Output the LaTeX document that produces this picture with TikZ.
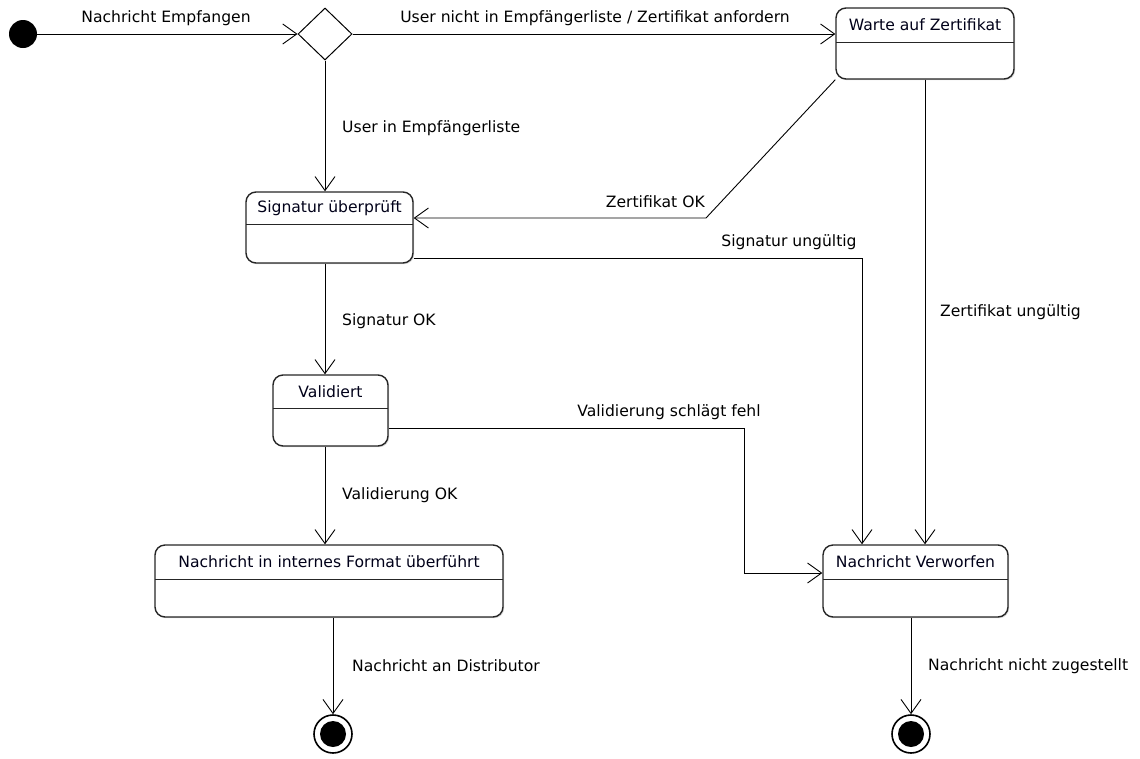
\documentclass[tikz,border=0pt]{standalone}
\usepackage{fontspec}
\setmainfont{DejaVu Sans}
\usetikzlibrary{arrows.meta,shapes.geometric,shadows}

% state box: name, x1, y1, x2, y2, y of the separator, title
\newcommand\umlstate[7]{%
  \node[statebox, minimum width={#4-#2}, minimum height={#5-#3}] (#1) at ({(#2+#4)/2},{(#3+#5)/2}) {};
  \draw[sepline] (#2,#6) -- (#4,#6);
  \node[statename] (#1-name) at ({(#2+#4)/2},{(#3+#6)/2}) {#7};
}

\begin{document}
\begin{tikzpicture}[x=1pt,y=-1pt,
  font=\fontsize{15.6}{18}\selectfont,
  statebox/.style={draw=black!85, line width=1.4pt, rounded corners=10pt, fill=white,
    inner sep=0pt, drop shadow={shadow xshift=1.2pt,shadow yshift=-1.2pt,opacity=0.3}},
  sepline/.style={draw=black!85, line width=1pt},
  statename/.style={inner sep=0pt, text=black!90!blue},
  lbl/.style={inner sep=0pt, text=black},
  tr/.style={draw=black, line width=0.9pt, -{Straight Barb[length=14pt,width=20pt,line width=0.9pt]}},
  initst/.style={circle, fill=black, minimum size=28pt, inner sep=0pt},
  decision/.style={diamond, draw=black, line width=1pt, fill=white, minimum width=54pt, minimum height=52pt, inner sep=0pt},
  finalst/.style={circle, draw=black, line width=1.6pt, fill=white, minimum size=38pt, inner sep=0pt},
  finaldot/.style={circle, fill=black, minimum size=26pt, inner sep=0pt}
]
\useasboundingbox (0,0) rectangle (1140,758);

% pseudo states
\node[initst] (init) at (23,34) {};
\node[decision] (dec) at (325,34) {};

% states
\umlstate{warte}{836}{8}{1014}{79}{42}{Warte auf Zertifikat}
\umlstate{sig}{246}{192}{413}{263}{224}{Signatur überprüft}
\umlstate{val}{273}{375}{388}{446}{408}{Validiert}
\umlstate{fmt}{155}{545}{503}{617}{579}{Nachricht in internes Format überführt}
\umlstate{verw}{823}{545}{1008}{617}{579}{Nachricht Verworfen}

% final states
\node[finalst] (end1) at (333,734) {};
\node[finaldot] (end1-dot) at (end1) {};
\node[finalst] (end2) at (911,734) {};
\node[finaldot] (end2-dot) at (end2) {};

% bend points
\coordinate (zok) at (706,218);
\coordinate (sbend) at (862,258);
\coordinate (vbend1) at (744,428);
\coordinate (vbend2) at (744,573);
\coordinate (wx) at (925,0);

% transitions
\draw[tr] (init) -- (dec.west);
\draw[tr] (dec.east) -- (warte.west |- dec.east);
\draw[tr] (dec.south) -- (sig.north -| dec.south);
\draw[tr] (warte.south west) -- (zok) -- (sig.east |- zok);
\draw[tr] (sig.east |- sbend) -- (sbend) -- (verw.north -| sbend);
\draw[tr] (sig.south -| dec) -- (val.north -| dec);
\draw[tr] (val.east |- vbend1) -- (vbend1) -- (vbend2) -- (verw.west |- vbend2);
\draw[tr] (warte.south -| wx) -- (verw.north -| wx);
\draw[tr] (val.south -| dec) -- (fmt.north -| dec);
\draw[tr] (fmt.south -| end1) -- (end1.north);
\draw[tr] (verw.south -| end2) -- (end2.north);

% transition labels
\node[lbl] (l1) at (166,18) {Nachricht Empfangen};
\node[lbl] (l2) at (595,18) {User nicht in Empfängerliste / Zertifikat anfordern};
\node[lbl, anchor=west] (l3) at (342,128) {User in Empfängerliste};
\node[lbl, anchor=east] (l4) at (705,202) {Zertifikat OK};
\node[lbl] (l5) at (789,242) {Signatur ungültig};
\node[lbl, anchor=west] (l6) at (940,312) {Zertifikat ungültig};
\node[lbl, anchor=west] (l7) at (342,321) {Signatur OK};
\node[lbl] (l8) at (669,412) {Validierung schlägt fehl};
\node[lbl, anchor=west] (l9) at (342,495) {Validierung OK};
\node[lbl, anchor=west] (l10) at (352,666) {Nachricht an Distributor};
\node[lbl, anchor=west] (l11) at (928,666) {Nachricht nicht zugestellt};
\end{tikzpicture}
\end{document}
